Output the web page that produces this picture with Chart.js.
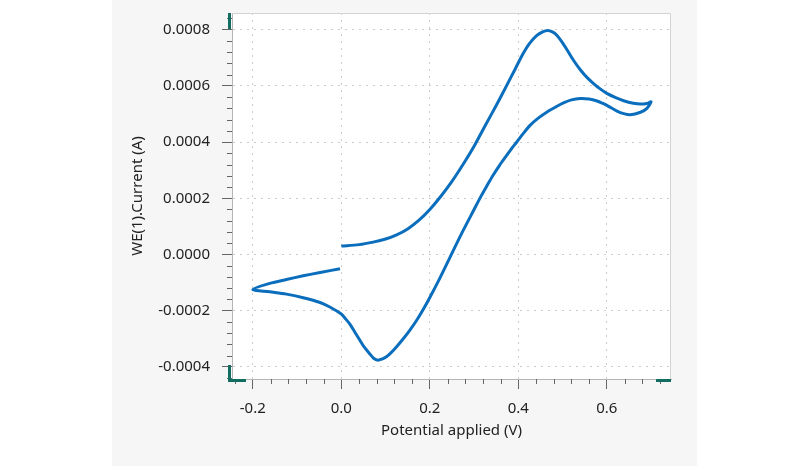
<!DOCTYPE html>
<html>
<head>
<meta charset="utf-8">
<script src="https://cdn.jsdelivr.net/npm/chart.js@4/dist/chart.umd.min.js"></script>
<style>
  body { margin: 0; background: #ffffff; }
  #cvChart { display: block; }
</style>
</head>
<body>
<canvas id="cvChart" width="800" height="466"></canvas>
<script>
/* Data: one cyclic scan, in scan order (0 -> 0.7 -> -0.2 -> 0) */
const potential_v = [
  // forward
  0.000, 0.040, 0.072, 0.100, 0.125, 0.150, 0.175, 0.200, 0.225, 0.250,
  0.275, 0.300, 0.325, 0.350, 0.375, 0.393, 0.410, 0.425, 0.442, 0.455,
  0.466, 0.477, 0.487, 0.500, 0.510, 0.525, 0.540, 0.555, 0.570, 0.585,
  0.600, 0.620, 0.638, 0.660, 0.676, 0.690, 0.700,
  // reverse
  0.690, 0.676, 0.653, 0.638, 0.623, 0.604, 0.590, 0.578, 0.560, 0.540,
  0.520, 0.502, 0.485, 0.465, 0.445, 0.427, 0.410, 0.397, 0.385, 0.374,
  0.358, 0.343, 0.330, 0.317, 0.300, 0.272, 0.245, 0.223, 0.200, 0.185,
  0.170, 0.155, 0.140, 0.125, 0.112, 0.102, 0.092, 0.083, 0.073, 0.064,
  0.052, 0.042, 0.030, 0.019, 0.008, 0.000, -0.026, -0.048, -0.086, -0.124,
  -0.162, -0.200,
  // back to start
  -0.162, -0.124, -0.086, -0.048, -0.003
];
const current_a = [
  0.000030, 0.000035, 0.000044, 0.000055, 0.000070, 0.000091, 0.000121, 0.000160, 0.000207, 0.000260,
  0.000320, 0.000385, 0.000458, 0.000530, 0.000605, 0.000660, 0.000712, 0.000750, 0.000779, 0.000792,
  0.000797, 0.000792, 0.000780, 0.000753, 0.000728, 0.000690, 0.000657, 0.000630, 0.000608, 0.000589,
  0.000573, 0.000558, 0.000547, 0.000538, 0.000535, 0.000537, 0.000543,
  0.000519, 0.000506, 0.000497, 0.000501, 0.000510, 0.000527, 0.000538, 0.000546, 0.000553, 0.000555,
  0.000550, 0.000539, 0.000525, 0.000507, 0.000485, 0.000460, 0.000428, 0.000401, 0.000377, 0.000353,
  0.000318, 0.000282, 0.000247, 0.000211, 0.000160, 0.000075, -0.000012, -0.000083, -0.000153, -0.000196,
  -0.000235, -0.000269, -0.000300, -0.000328, -0.000350, -0.000364, -0.000372, -0.000376, -0.000369, -0.000353,
  -0.000330, -0.000305, -0.000275, -0.000247, -0.000226, -0.000212, -0.000187, -0.000171, -0.000154, -0.000141,
  -0.000133, -0.000125,
  -0.000103, -0.000089, -0.000076, -0.000064, -0.000051
];

const x_range = [-0.247, 0.745];
const y_range = [-0.000443, 0.000859];
const x_title = 'Potential applied (V)';
const y_title = 'WE(1).Current (A)';

const font_family = "'Noto Sans', 'Open Sans', sans-serif";
const teal = '#116d60';

const buildPoints = () => {
  const pts = [];
  for (let i = 0; i < potential_v.length; i++) {
    pts.push({x: potential_v[i], y: current_a[i]});
  }
  return pts;
};

/* backgrounds: grey panel + white plot area */
const backdrop = {
  id: 'backdrop',
  beforeDraw(chart) {
    const ctx = chart.ctx;
    const a = chart.chartArea;
    ctx.save();
    ctx.fillStyle = '#ffffff';
    ctx.fillRect(0, 0, chart.width, chart.height);
    ctx.fillStyle = '#f6f6f6';
    ctx.fillRect(112, 0, 585, chart.height);
    ctx.fillStyle = '#ffffff';
    ctx.fillRect(a.left, a.top, a.right - a.left, a.bottom - a.top);
    ctx.restore();
  }
};

/* minor ticks, plot frame and the teal range markers */
const decorations = {
  id: 'decorations',
  afterDraw(chart) {
    const ctx = chart.ctx;
    const a = chart.chartArea;
    const xs = chart.scales.x;
    const ys = chart.scales.y;
    ctx.save();
    // frame top / right
    ctx.strokeStyle = '#d3d3d3';
    ctx.lineWidth = 1;
    ctx.beginPath();
    ctx.moveTo(a.left, a.top + 0.5);
    ctx.lineTo(a.right - 0.5, a.top + 0.5);
    ctx.lineTo(a.right - 0.5, a.bottom);
    ctx.stroke();

    // minor ticks
    ctx.strokeStyle = '#666666';
    ctx.beginPath();
    for (let k = -6; k <= 18; k++) {
      if (k % 5 === 0) continue;
      const v = k * 0.04;
      if (v < xs.min || v > xs.max) continue;
      const px = Math.round(xs.getPixelForValue(v)) + 0.5;
      ctx.moveTo(px, a.bottom);
      ctx.lineTo(px, a.bottom + 5);
    }
    for (let k = -11; k <= 21; k++) {
      if (k % 5 === 0) continue;
      const v = k * 0.00004;
      if (v < ys.min || v > ys.max) continue;
      const py = Math.round(ys.getPixelForValue(v)) + 0.5;
      ctx.moveTo(a.left, py);
      ctx.lineTo(a.left - 5, py);
    }
    ctx.stroke();

    // teal markers at axis ends
    ctx.fillStyle = teal;
    ctx.fillRect(a.left - 4, a.top, 3, 16);
    ctx.fillRect(a.left - 4, a.bottom - 14, 3, 17);
    ctx.fillRect(a.left - 2, a.bottom, 16, 3);
    ctx.fillRect(a.right - 15, a.bottom, 15, 3);
    ctx.restore();
  }
};

const cv_chart = new Chart(document.getElementById('cvChart').getContext('2d'), {
  type: 'scatter',
  data: {
    datasets: [{
      data: buildPoints(),
      showLine: true,
      borderColor: '#0a6ebd',
      borderWidth: 3,
      pointRadius: 0,
      tension: 0.3,
      fill: false
    }]
  },
  options: {
    responsive: false,
    animation: false,
    layout: { padding: { left: 112, right: 129, top: 13, bottom: 0 } },
    plugins: {
      legend: { display: false },
      tooltip: { enabled: false }
    },
    scales: {
      x: {
        type: 'linear',
        min: x_range[0],
        max: x_range[1],
        afterFit: (scale) => {
          scale.height = 87;
          scale.paddingLeft = 0;
          scale.paddingRight = 0;
        },
        ticks: {
          stepSize: 0.2,
          includeBounds: false,
          padding: 11,
          color: '#222222',
          font: { family: font_family, size: 15 },
          callback: (v) => (Math.abs(v) < 1e-9 ? 0 : v).toFixed(1)
        },
        grid: {
          color: '#cccccc',
          tickColor: '#666666',
          tickLength: 10,
          lineWidth: 1
        },
        border: { color: '#b5b5b5', dash: [2, 5] },
        title: {
          display: true,
          text: x_title,
          color: '#222222',
          font: { family: font_family, size: 15 },
          padding: { top: 0, bottom: 26 }
        }
      },
      y: {
        type: 'linear',
        min: y_range[0],
        max: y_range[1],
        afterFit: (scale) => {
          scale.width = 120;
          scale.paddingTop = 0;
          scale.paddingBottom = 0;
        },
        ticks: {
          stepSize: 0.0002,
          includeBounds: false,
          padding: 12,
          color: '#222222',
          font: { family: font_family, size: 15 },
          callback: (v) => (Math.abs(v) < 1e-12 ? 0 : v).toFixed(4)
        },
        grid: {
          color: '#cccccc',
          tickColor: '#666666',
          tickLength: 10,
          lineWidth: 1
        },
        border: { color: '#b5b5b5', dash: [2, 5] },
        title: {
          display: true,
          text: y_title,
          color: '#222222',
          font: { family: font_family, size: 15 },
          padding: { top: 17, bottom: 0 }
        }
      }
    }
  },
  plugins: [backdrop, decorations]
});
</script>
</body>
</html>
